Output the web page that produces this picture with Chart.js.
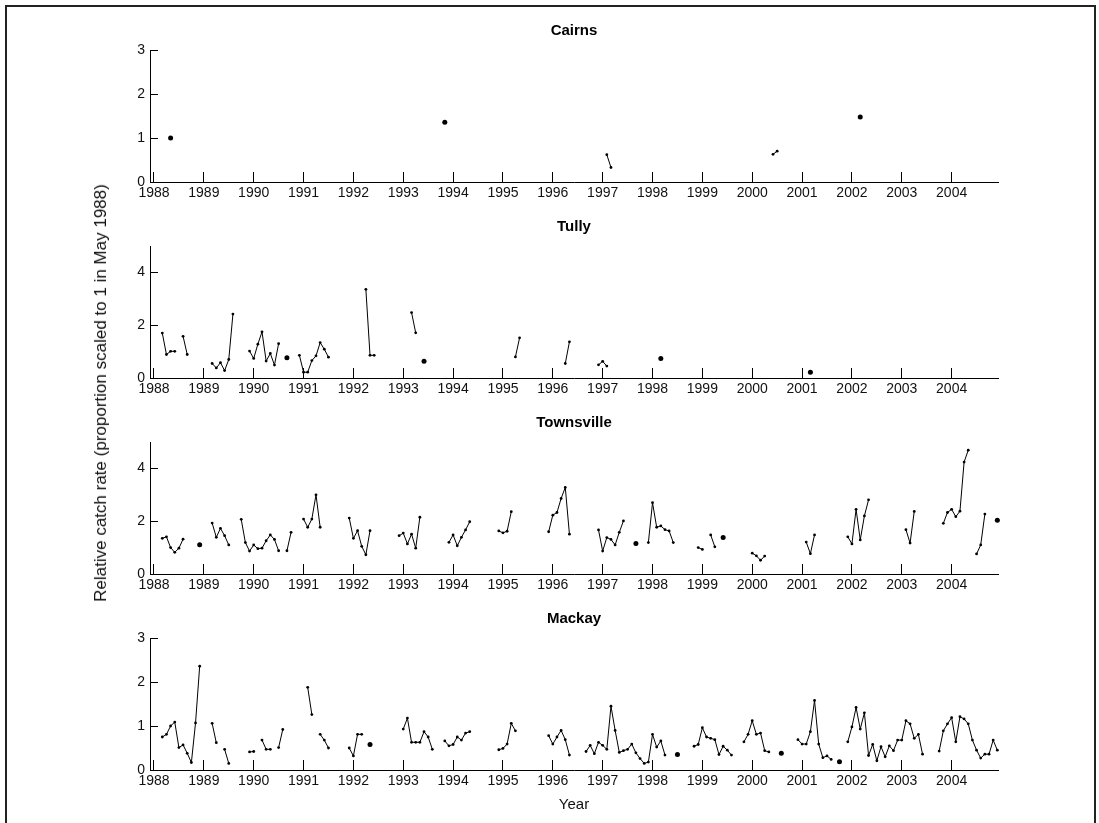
<!DOCTYPE html>
<html>
<head>
<meta charset="utf-8">
<script src="https://cdn.jsdelivr.net/npm/chart.js@4.4.1/dist/chart.umd.min.js"></script>
<style>
  html, body { margin: 0; padding: 0; background: #fff; }
  #page { position: relative; width: 1099px; height: 823px; overflow: hidden;
          font-family: "Liberation Sans", Arial, sans-serif; }
  #frame { position: absolute; left: 5px; top: 5px; width: 1087px; height: 840px;
           border: 2px solid #222; border-bottom: none; }
  .panel { position: absolute; left: 0; width: 1099px; }
  #ylabel { position: absolute; left: 101px; top: 393px; white-space: nowrap;
            transform: translate(-50%, -50%) rotate(-90deg);
            font-size: 17px; color: #111; }
</style>
</head>
<body>
<div id="page">
  <div id="frame"></div>
  <div class="panel" style="top:14px;height:196px"><canvas id="cairns" width="1099" height="196"></canvas></div>
  <div class="panel" style="top:210px;height:196px"><canvas id="tully" width="1099" height="196"></canvas></div>
  <div class="panel" style="top:406px;height:196px"><canvas id="townsville" width="1099" height="196"></canvas></div>
  <div class="panel" style="top:602px;height:218px"><canvas id="mackay" width="1099" height="218"></canvas></div>
  <div id="ylabel">Relative catch rate (proportion scaled to 1 in May 1988)</div>
</div>
<script>
// tick labels
const yearTicks = [1988, 1989, 1990, 1991, 1992, 1993, 1994, 1995, 1996,
                   1997, 1998, 1999, 2000, 2001, 2002, 2003, 2004];
const ticks0to3 = [0, 1, 2, 3];
const ticks0to4 = [0, 2, 4];

// monthly runs: [first month, consecutive monthly values]
const cairnsRuns = [
  ['1988-05', [1.00]],
  ['1993-11', [1.36]],
  ['1997-02', [0.62, 0.33]],
  ['2000-06', [0.63, 0.70]],
  ['2002-03', [1.48]]
];

const tullyRuns = [
  ['1988-03', [1.70, 0.89, 1.01, 1.01]],
  ['1988-08', [1.58, 0.89]],
  ['1989-03', [0.55, 0.38, 0.58, 0.28, 0.70, 2.42]],
  ['1989-12', [1.02, 0.74, 1.28, 1.75, 0.64, 0.93, 0.49, 1.30]],
  ['1990-09', [0.77]],
  ['1990-12', [0.86, 0.22, 0.22, 0.66, 0.84, 1.34, 1.09, 0.79]],
  ['1992-04', [3.36, 0.86, 0.86]],
  ['1993-03', [2.48, 1.71]],
  ['1993-06', [0.63]],
  ['1995-04', [0.80, 1.52]],
  ['1996-04', [0.55, 1.37]],
  ['1996-12', [0.50, 0.63, 0.45]],
  ['1998-03', [0.74]],
  ['2001-03', [0.22]]
];

const townsvilleRuns = [
  ['1988-03', [1.35, 1.41, 1.00, 0.82, 0.98, 1.32]],
  ['1988-12', [1.11]],
  ['1989-03', [1.93, 1.39, 1.73, 1.45, 1.10]],
  ['1989-10', [2.07, 1.19, 0.87, 1.10, 0.96, 0.98, 1.26, 1.48, 1.31, 0.88]],
  ['1990-09', [0.88, 1.58]],
  ['1991-01', [2.08, 1.77, 2.08, 3.00, 1.77]],
  ['1991-12', [2.12, 1.35, 1.64, 1.05, 0.73, 1.64]],
  ['1992-12', [1.45, 1.55, 1.14, 1.51, 0.98, 2.15]],
  ['1993-12', [1.20, 1.48, 1.07, 1.39, 1.67, 1.98]],
  ['1994-12', [1.63, 1.56, 1.62, 2.36]],
  ['1995-12', [1.60, 2.23, 2.33, 2.86, 3.28, 1.51]],
  ['1996-12', [1.67, 0.87, 1.38, 1.31, 1.10, 1.58, 2.01]],
  ['1997-09', [1.16]],
  ['1997-12', [1.19, 2.70, 1.77, 1.82, 1.68, 1.63, 1.19]],
  ['1998-12', [1.00, 0.93]],
  ['1999-03', [1.48, 1.03]],
  ['1999-06', [1.38]],
  ['2000-01', [0.79, 0.69, 0.52, 0.68]],
  ['2001-02', [1.21, 0.77, 1.48]],
  ['2001-12', [1.41, 1.14, 2.45, 1.29, 2.20, 2.81]],
  ['2003-02', [1.68, 1.17, 2.37]],
  ['2003-11', [1.92, 2.33, 2.45, 2.17, 2.38, 4.24, 4.69]],
  ['2004-07', [0.76, 1.10, 2.27]],
  ['2004-12', [2.04]]
];

const mackayRuns = [
  ['1988-03', [0.75, 0.81, 1.00, 1.09, 0.51, 0.57, 0.38, 0.17, 1.07, 2.36]],
  ['1989-03', [1.06, 0.62]],
  ['1989-06', [0.47, 0.15]],
  ['1989-12', [0.41, 0.42]],
  ['1990-03', [0.68, 0.47, 0.47]],
  ['1990-07', [0.51, 0.92]],
  ['1991-02', [1.88, 1.26]],
  ['1991-05', [0.81, 0.68, 0.50]],
  ['1991-12', [0.50, 0.32, 0.81, 0.81]],
  ['1992-05', [0.58]],
  ['1993-01', [0.93, 1.18, 0.63, 0.63, 0.63, 0.87, 0.75, 0.47]],
  ['1993-11', [0.66, 0.55, 0.58, 0.75, 0.68, 0.84, 0.87]],
  ['1994-12', [0.46, 0.49, 0.59, 1.06, 0.89]],
  ['1995-12', [0.78, 0.59, 0.75, 0.90, 0.69, 0.34]],
  ['1996-09', [0.42, 0.56, 0.37, 0.63, 0.56, 0.47, 1.45, 0.90, 0.40, 0.44,
               0.47, 0.59, 0.39, 0.26, 0.15, 0.18, 0.81, 0.52, 0.66, 0.34]],
  ['1998-07', [0.35]],
  ['1998-11', [0.54, 0.58, 0.96, 0.75, 0.72, 0.69, 0.35, 0.54, 0.45, 0.34]],
  ['1999-11', [0.64, 0.81, 1.12, 0.81, 0.84, 0.44, 0.41]],
  ['2000-08', [0.38]],
  ['2000-12', [0.69, 0.59, 0.59, 0.87, 1.58, 0.59, 0.28, 0.32, 0.24]],
  ['2001-10', [0.19]],
  ['2001-12', [0.64, 0.98, 1.42, 0.93, 1.30, 0.33, 0.58, 0.21, 0.53, 0.30,
               0.55, 0.44, 0.68, 0.68, 1.12, 1.05, 0.72, 0.81, 0.36]],
  ['2003-10', [0.43, 0.89, 1.05, 1.19, 0.64, 1.21, 1.16, 1.05, 0.68, 0.45,
               0.27, 0.36, 0.36, 0.68, 0.45]]
];

const FONT = '"Liberation Sans", Arial, sans-serif';
Chart.defaults.font.family = FONT;
Chart.defaults.color = '#111';

// turn runs into points, with a null between runs so the line breaks
function runsToPoints(runs) {
  const pts = [];
  runs.forEach(([start, vals]) => {
    const [yy, mm] = start.split('-').map(Number);
    const x0 = yy + (mm - 1) / 12;
    vals.forEach((v, i) => pts.push({ x: x0 + i / 12, y: v }));
    pts.push({ x: x0 + (vals.length - 0.5) / 12, y: null });
  });
  return pts;
}

// single months get a bigger dot
function dotSize(ctx) {
  const d = ctx.dataset.data, i = ctx.dataIndex;
  if (!d[i] || d[i].y == null) return 0;
  const prev = d[i - 1], next = d[i + 1];
  const alone = (!prev || prev.y == null) && (!next || next.y == null);
  return alone ? 2.5 : 1.4;
}

function makePanel(id, title, runs, yMax, yTicks, isLast) {
  new Chart(document.getElementById(id), {
    type: 'line',
    data: {
      datasets: [{
        data: runsToPoints(runs),
        borderColor: '#000',
        borderWidth: 1,
        pointRadius: dotSize,
        pointBackgroundColor: '#000',
        pointBorderWidth: 0,
        tension: 0,
        spanGaps: false,
        clip: false
      }]
    },
    options: {
      responsive: false,
      animation: false,
      devicePixelRatio: 1,
      layout: { padding: { left: 0, right: 101, top: 0, bottom: 0 } },
      plugins: {
        legend: { display: false },
        tooltip: { enabled: false },
        title: {
          display: true, text: title, fullSize: false, color: '#000',
          font: { size: 15, weight: 'bold', lineHeight: 1.2 },
          padding: { top: 8, bottom: 10 }
        }
      },
      scales: {
        x: {
          type: 'linear', min: 1987.92, max: 2004.93,
          afterBuildTicks: s => { s.ticks = yearTicks.map(v => ({ value: v })); },
          afterFit: s => { s.height = isLast ? 50 : 28; },
          grid: { drawOnChartArea: false, tickLength: -10, color: '#000', lineWidth: 1 },
          border: { color: '#000', width: 1 },
          ticks: { color: '#111', font: { size: 14 }, padding: 13, maxRotation: 0,
                   autoSkip: false, callback: v => String(v) },
          title: isLast
            ? { display: true, text: 'Year', color: '#111', font: { size: 15 },
                padding: { top: 0, bottom: 6 } }
            : { display: false }
        },
        y: {
          min: 0, max: yMax,
          afterBuildTicks: s => { s.ticks = yTicks.map(v => ({ value: v })); },
          afterFit: s => { s.width = 150; },
          grid: { drawOnChartArea: false, tickLength: -8, color: '#000', lineWidth: 1 },
          border: { color: '#000', width: 1 },
          ticks: { color: '#111', font: { size: 14 }, padding: 13, callback: v => String(v) }
        }
      }
    }
  });
}

makePanel('cairns', 'Cairns', cairnsRuns, 3, ticks0to3, false);
makePanel('tully', 'Tully', tullyRuns, 5, ticks0to4, false);
makePanel('townsville', 'Townsville', townsvilleRuns, 5, ticks0to4, false);
makePanel('mackay', 'Mackay', mackayRuns, 3, ticks0to3, true);
</script>
</body>
</html>
